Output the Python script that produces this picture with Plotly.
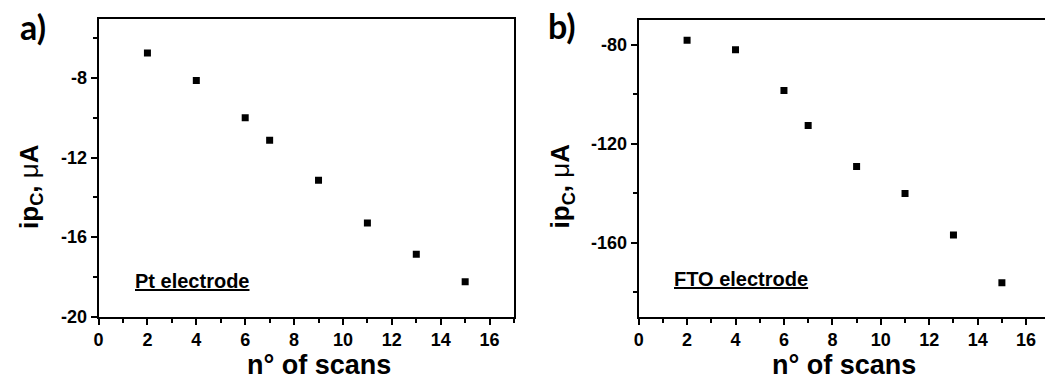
import plotly.graph_objects as go
from plotly.subplots import make_subplots

# Data
scans_pt = [2, 4, 6, 7, 9, 11, 13, 15]
ipc_pt = [-6.73, -8.12, -9.99, -11.13, -13.14, -15.29, -16.86, -18.25]

scans_fto = [2, 4, 6, 7, 9, 11, 13, 15]
ipc_fto = [-78.1, -82.0, -98.5, -112.6, -129.2, -140.2, -157.0, -176.3]

x_ticks = [0, 2, 4, 6, 8, 10, 12, 14, 16]
y_ticks_pt = [-20, -16, -12, -8]
y_ticks_fto = [-160, -120, -80]

W, H = 1045, 389
FONT = "Liberation Sans"


def px(x):
    return x / W


def py(y):
    return (H - y) / H


def bold_labels(vals):
    return ["<b>%s</b>" % str(v) for v in vals]


fig = make_subplots(rows=1, cols=2)

marker = dict(symbol="square", size=7, color="black")
fig.add_trace(go.Scatter(x=scans_pt, y=ipc_pt, mode="markers", marker=marker,
                         showlegend=False), row=1, col=1)
fig.add_trace(go.Scatter(x=scans_fto, y=ipc_fto, mode="markers", marker=marker,
                         showlegend=False), row=1, col=2)

tickfont = dict(family=FONT, size=18, color="black")
common_x = dict(
    tickmode="array", tickvals=x_ticks, ticktext=bold_labels(x_ticks),
    ticks="outside", ticklen=6, tickwidth=2,
    tickcolor="black", showline=True, linewidth=2, linecolor="black",
    showgrid=False, zeroline=False, tickfont=tickfont, range=[0, 17], mirror=True,
    minor=dict(tickmode="array", tickvals=list(range(1, 18, 2)), ticks="outside",
               ticklen=4, tickwidth=2, tickcolor="black", showgrid=False),
)
fig.update_xaxes(**common_x)
fig.update_xaxes(domain=[px(94), px(511.5)], row=1, col=1)
fig.update_xaxes(domain=[px(636.7), 1.0], range=[0, 16.78], row=1, col=2)

common_y = dict(
    ticks="outside", ticklen=6, tickwidth=2, tickcolor="black",
    showline=True, linewidth=2, linecolor="black", showgrid=False,
    zeroline=False, tickfont=tickfont, tickmode="array",
)
fig.update_yaxes(**common_y)
fig.update_yaxes(range=[-20, -5], tickvals=y_ticks_pt, ticktext=bold_labels(y_ticks_pt),
                 mirror=True, domain=[py(325), py(19)],
                 minor=dict(tickmode="array", tickvals=[-18, -14, -10, -6], ticks="outside",
                            ticklen=4, tickwidth=2, tickcolor="black", showgrid=False),
                 row=1, col=1)
fig.update_yaxes(range=[-190, -70], tickvals=y_ticks_fto, ticktext=bold_labels(y_ticks_fto),
                 mirror=False, domain=[py(325), py(20.7)],
                 minor=dict(tickmode="array", tickvals=[-180, -140, -100], ticks="outside",
                            ticklen=4, tickwidth=2, tickcolor="black", showgrid=False),
                 row=1, col=2)

title_font = dict(family=FONT, size=27, color="black")
ytitle = "<b>ip<sub>C</sub>, </b>μ<b>A</b>"
label_font = dict(family="Lato", size=34, color="black")
elec_font = dict(family=FONT, size=20, color="black")
annotations = [
    dict(text="<b>n° of scans</b>", x=px(316), y=py(375), font=title_font),
    dict(text="<b>n° of scans</b>", x=px(843), y=py(375), font=title_font),
    dict(text=ytitle, x=px(25), y=py(191), textangle=-90, font=dict(title_font, size=26)),
    dict(text=ytitle, x=px(559), y=py(191), textangle=-90, font=dict(title_font, size=26)),
    dict(text="<b>a)</b>", x=px(28), y=py(27), font=label_font),
    dict(text="<b>b)</b>", x=px(560), y=py(26), font=label_font),
    dict(text="<b><u>Pt electrode</u></b>", x=px(129), y=py(288), xanchor="left", font=elec_font),
    dict(text="<b><u>FTO electrode</u></b>", x=px(670), y=py(286), xanchor="left", font=elec_font),
]
for a in annotations:
    a.setdefault("xanchor", "center")
    a.update(xref="paper", yref="paper", yanchor="middle", showarrow=False)
fig.update_layout(annotations=annotations)

fig.update_layout(
    width=W, height=H, margin=dict(l=0, r=0, t=0, b=0),
    paper_bgcolor="white", plot_bgcolor="white", hovermode=False,
)

fig.write_html(
    "out.html",
    config={"displayModeBar": False},
    post_script="document.body.style.margin='0';document.body.style.overflow='hidden';",
)
